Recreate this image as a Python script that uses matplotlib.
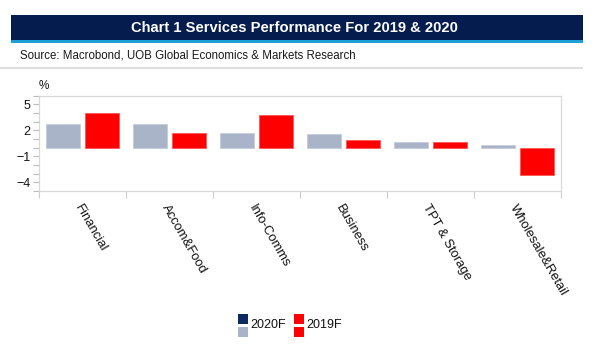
import matplotlib
matplotlib.use("Agg")
import matplotlib.pyplot as plt
from matplotlib.patches import Rectangle
from matplotlib.transforms import ScaledTranslation
import numpy as np

plt.rcParams['font.family'] = ['Liberation Sans', 'DejaVu Sans']

categories = ["Financial", "Accom&Food", "Info-Comms", "Business", "TPT & Storage", "Wholesale&Retail"]
vals_2020 = [2.7, 2.7, 1.7, 1.6, 0.7, 0.3]
vals_2019 = [4.0, 1.7, 3.7, 0.9, 0.7, -3.2]
series_names = ["2020F", "2019F"]
yticks = [5, 2, -1, -4]

W, H = 600, 360
fig = plt.figure(figsize=(6, 3.6), dpi=100)

def fx(px):
    return px / W

def fy(py):
    return 1 - py / H

# Title banner
fig.patches.append(Rectangle((fx(11), fy(40)), fx(583) - fx(11), fy(15.3) - fy(40),
                             transform=fig.transFigure, facecolor="#041c4e", edgecolor="none"))
fig.patches.append(Rectangle((fx(11), fy(42.7)), fx(583) - fx(11), fy(40) - fy(42.7),
                             transform=fig.transFigure, facecolor="#1e9fd6", edgecolor="none"))
fig.text(fx(294), fy(27.5), "Chart 1 Services Performance For 2019 & 2020", color="white",
         fontsize=10.6, fontweight="bold", ha="center", va="center")
fig.text(fx(20.5), fy(55), "Source: Macrobond, UOB Global Economics & Markets Research",
         color="#1a1a1a", fontsize=8.3, ha="left", va="center")
fig.patches.append(Rectangle((fx(0), fy(68.5)), fx(583), fy(67) - fy(68.5),
                             transform=fig.transFigure, facecolor="#dddddd", edgecolor="none"))

ax = fig.add_axes([fx(39), fy(191), fx(561) - fx(39), fy(95.5) - fy(191)])
x = np.arange(len(categories))
w = 0.40
ax.bar(x - 0.225, vals_2020, width=w, color="#aab4c8", edgecolor="#c4ccda", linewidth=0.6)
ax.bar(x + 0.225, vals_2019, width=w, color="#ff0000", edgecolor="#ff5555", linewidth=0.6)

ax.set_xlim(-0.5, len(categories) - 0.5)
ax.set_ylim(-5, 6)
ax.set_yticks(yticks)
ax.set_yticks(np.arange(-5, 7, 1), minor=True)
ax.tick_params(axis="y", which="both", length=4, width=0.8, color="#bbbbbb",
               labelsize=9, labelcolor="#111111", pad=2)

ax.set_xticks(x)
labels = ax.set_xticklabels(categories, rotation=-60, ha="left", va="top", rotation_mode="anchor",
                            fontsize=9.4, color="#111111")
for lab in labels:
    lab.set_transform(lab.get_transform() + ScaledTranslation(2 / 100, 0, fig.dpi_scale_trans))
ax.set_xticks(np.arange(-0.5, len(categories), 1), minor=True)
ax.tick_params(axis="x", which="major", length=0, pad=8)
ax.tick_params(axis="x", which="minor", length=5, width=0.8, color="#cccccc")
for s in ax.spines.values():
    s.set_color("#d8d8d8")
    s.set_linewidth(0.9)

fig.text(fx(39), fy(86), "%", fontsize=8.5, ha="left", va="center", color="#111111")

# Legend
fig.patches.append(Rectangle((fx(238), fy(324)), fx(10), fy(314) - fy(324),
                             transform=fig.transFigure, facecolor="#0d2a60", edgecolor="none"))
fig.patches.append(Rectangle((fx(238), fy(337)), fx(10), fy(327) - fy(337),
                             transform=fig.transFigure, facecolor="#aab4c8", edgecolor="none"))
fig.patches.append(Rectangle((fx(294), fy(324)), fx(10), fy(314) - fy(324),
                             transform=fig.transFigure, facecolor="#ff0000", edgecolor="none"))
fig.patches.append(Rectangle((fx(294), fy(337)), fx(10), fy(327) - fy(337),
                             transform=fig.transFigure, facecolor="#ff0000", edgecolor="none"))
fig.text(fx(250.5), fy(325.5), series_names[0], fontsize=9, ha="left", va="center", color="#111111")
fig.text(fx(306.5), fy(325.5), series_names[1], fontsize=9, ha="left", va="center", color="#111111")

fig.savefig("out.png", dpi=100)
